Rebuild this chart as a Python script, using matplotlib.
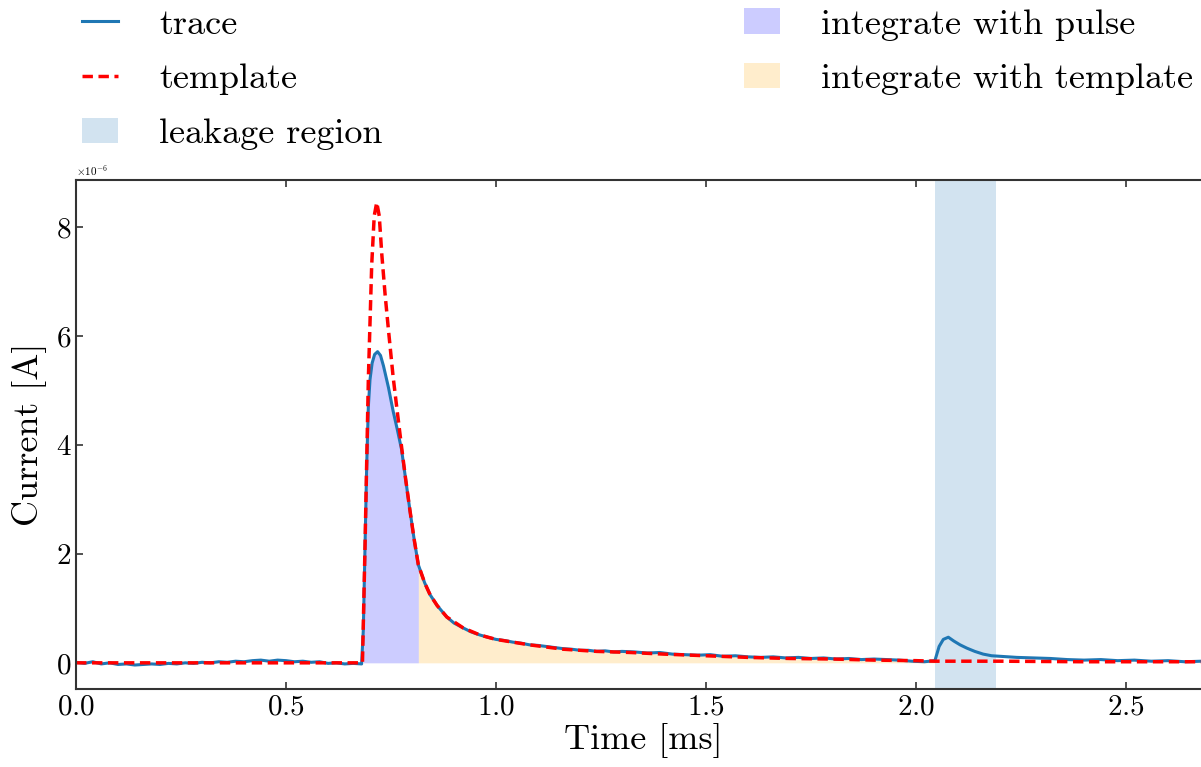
import matplotlib
matplotlib.use("Agg")
import matplotlib.pyplot as plt
import numpy as np
from matplotlib.lines import Line2D
from matplotlib.patches import Patch

# time in ms, current in units of 1e-6 A
trace_t = [0.00, 0.02, 0.04, 0.06, 0.08, 0.10, 0.12, 0.14, 0.16, 0.18, 0.20, 0.22,
           0.24, 0.26, 0.28, 0.30, 0.32, 0.34, 0.36, 0.38, 0.40, 0.42, 0.44, 0.46,
           0.48, 0.50, 0.52, 0.54, 0.56, 0.58, 0.60, 0.62, 0.64, 0.66, 0.68,
           0.684, 0.688, 0.692, 0.696, 0.700, 0.705, 0.711, 0.718, 0.725, 0.732,
           0.744, 0.755, 0.765, 0.775, 0.785, 0.795, 0.805, 0.815, 0.83, 0.843,
           0.86, 0.883, 0.90, 0.922, 0.94, 0.962, 0.98,
           1.00, 1.02, 1.04, 1.06, 1.08, 1.10, 1.12, 1.14, 1.16, 1.18, 1.20, 1.22,
           1.24, 1.26, 1.28, 1.30,
           1.33, 1.36, 1.39, 1.42, 1.45, 1.48, 1.51, 1.54, 1.57, 1.60, 1.63, 1.66,
           1.69, 1.72, 1.75, 1.78, 1.81, 1.84, 1.87, 1.90, 1.93, 1.96, 1.99, 2.02,
           2.045,
           2.055, 2.065, 2.077, 2.09, 2.105, 2.121, 2.14, 2.16, 2.18, 2.20, 2.24,
           2.28, 2.32, 2.36, 2.40, 2.44, 2.48, 2.52, 2.56, 2.60, 2.64, 2.68]
trace_i = [0.01, -0.01, 0.02, -0.02, 0.00, -0.03, -0.02, -0.04, -0.03, -0.02, -0.03, -0.01,
           -0.02, 0.00, -0.01, 0.01, 0.00, 0.02, 0.01, 0.03, 0.02, 0.04, 0.05, 0.03,
           0.05, 0.04, 0.02, 0.03, 0.01, 0.02, -0.01, 0.00, -0.02, -0.01, -0.02,
           0.6, 2.1, 3.6, 4.7, 5.2, 5.5, 5.66, 5.71, 5.64, 5.45,
           5.05, 4.62, 4.28, 3.92, 3.36, 2.8, 2.27, 1.8, 1.47, 1.25,
           1.05, 0.84, 0.73, 0.64, 0.57, 0.51, 0.47,
           0.43, 0.41, 0.38, 0.36, 0.33, 0.32, 0.30, 0.28, 0.26, 0.25, 0.23, 0.23,
           0.21, 0.22, 0.20, 0.21,
           0.20, 0.18, 0.19, 0.16, 0.15, 0.14, 0.15, 0.12, 0.13, 0.11, 0.10, 0.11,
           0.09, 0.10, 0.08, 0.09, 0.07, 0.08, 0.06, 0.07, 0.06, 0.05, 0.03, 0.02,
           0.04,
           0.30, 0.43, 0.47, 0.40, 0.33, 0.27, 0.21, 0.16, 0.13, 0.12, 0.10,
           0.09, 0.08, 0.06, 0.05, 0.06, 0.04, 0.05, 0.03, 0.04, 0.02, 0.03]

template_t = [0.0, 0.682, 0.688, 0.696, 0.704, 0.710, 0.716, 0.722, 0.728, 0.736,
              0.744, 0.755, 0.765, 0.775, 0.785, 0.795, 0.805, 0.815, 0.83, 0.843,
              0.86, 0.883, 0.922, 0.962, 1.0,
              1.08, 1.16, 1.24, 1.32, 1.4, 1.5, 1.6, 1.7, 1.8, 1.9, 2.0, 2.045,
              2.2, 2.4, 2.68]
template_i = [0.0, 0.0, 2.1, 5.2, 7.3, 8.2, 8.45, 8.2, 7.5, 6.75,
              6.1, 5.25, 4.6, 3.97, 3.36, 2.8, 2.27, 1.8, 1.47, 1.25,
              1.05, 0.84, 0.64, 0.51, 0.43,
              0.33, 0.25, 0.21, 0.19, 0.16, 0.13, 0.10, 0.08, 0.07, 0.05, 0.04, 0.03,
              0.03, 0.02, 0.02]

pulse_start, split_t = 0.684, 0.815
leak_start, leak_end = 2.045, 2.19

plt.rcParams.update({
    "font.family": "serif",
    "font.serif": ["cmr10"],
    "mathtext.fontset": "cm",
    "axes.formatter.use_mathtext": True,
    "axes.unicode_minus": False,
})

t = np.array(trace_t)
y = np.array(trace_i) * 1e-6
tt = np.array(template_t)
ty = np.array(template_i) * 1e-6

fig = plt.figure(figsize=(12.01, 7.67), dpi=100)
ax = fig.add_axes([0.0633, 0.1017, 0.9442, 0.6636])

ax.axvspan(leak_start, leak_end, color="tab:blue", alpha=0.2, lw=0)
ax.fill_between(t, 0, y, where=(t >= pulse_start) & (t <= split_t),
                color="blue", alpha=0.2, lw=0)
ax.fill_between(tt, 0, ty, where=(tt >= split_t) & (tt <= leak_start),
                color="orange", alpha=0.2, lw=0)
ax.plot(t, y, color="tab:blue", lw=2.2)
ax.plot(tt, ty, color="red", lw=2.5, ls="--", dashes=(3, 1.6))

ax.set_xlim(0, 2.7)
ax.set_ylim(-0.48e-6, 8.86e-6)
ax.set_xticks([0.0, 0.5, 1.0, 1.5, 2.0, 2.5])
ax.set_yticks([0, 2e-6, 4e-6, 6e-6, 8e-6])
ax.tick_params(direction="in", top=True, right=True, labelsize=21,
               length=5, width=1.2, color="#333333")
ax.yaxis.get_offset_text().set_fontsize(8)
for s in ax.spines.values():
    s.set_color("#333333")
    s.set_linewidth(1.5)

ax.set_xlabel("Time [ms]", fontsize=26, labelpad=2)
ax.set_ylabel("Current [A]", fontsize=26, labelpad=6)

handles = [
    Line2D([], [], color="tab:blue", lw=2.2),
    Line2D([], [], color="red", lw=2.5, ls="--", dashes=(3, 1.6)),
    Patch(facecolor="tab:blue", alpha=0.2),
    Patch(facecolor="blue", alpha=0.2),
    Patch(facecolor="orange", alpha=0.2),
]
labels = ["trace", "template", "leakage region",
          "integrate with pulse", "integrate with template"]
fig.legend(handles, labels, loc="upper left", bbox_to_anchor=(0.047, 1.022),
           ncol=2, frameon=False, fontsize=26, handlelength=1.0,
           handletextpad=1.15, columnspacing=10.0, labelspacing=0.62,
           borderpad=0.2)

fig.savefig("out.png", dpi=100)
